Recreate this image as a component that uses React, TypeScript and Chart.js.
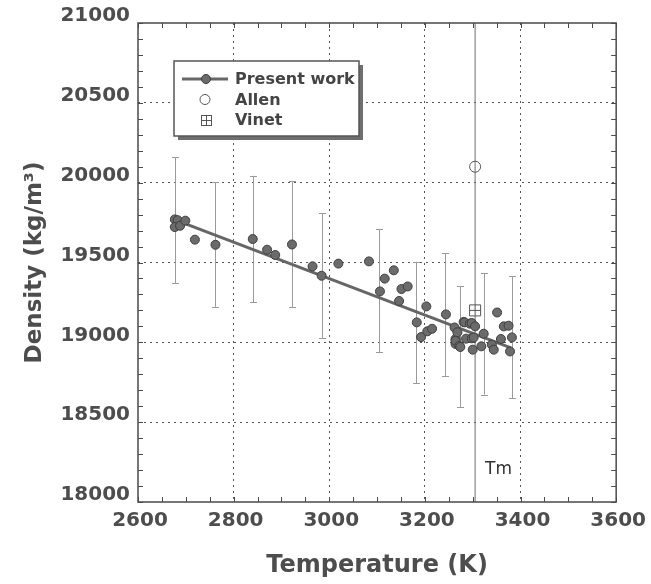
import React, { useEffect, useRef } from "react";
import { Chart, registerables } from "chart.js";

Chart.register(...registerables);

// ---- Axis ranges and tick labels ----
const xMin = 2600;
const xMax = 3600;
const yMin = 18000;
const yMax = 21000;
const xMajorTicks = [2600, 2800, 3000, 3200, 3400, 3600];
const yMajorTicks = [18000, 18500, 19000, 19500, 20000, 20500, 21000];
const xMinorStep = 50;
const yMinorStep = 100;

// ---- Present work measurements (K, kg/m3) ----
const presentT = [
  2677, 2683, 2677, 2688, 2699, 2719, 2762, 2840, 2870, 2887, 2922, 2965, 2984, 3019,
  3083, 3106, 3116, 3135, 3146, 3151, 3164, 3183, 3192, 3203, 3205, 3215, 3244,
  3262, 3264, 3264, 3264, 3268, 3272, 3274, 3281, 3283, 3286, 3294, 3298, 3298,
  3300, 3302, 3305, 3318, 3323, 3340, 3344, 3351, 3359, 3365, 3375, 3378, 3382,
];
const presentRho = [
  19770, 19765, 19722, 19730, 19762, 19643, 19611, 19647, 19580, 19547, 19613, 19476, 19417, 19493,
  19507, 19319, 19399, 19451, 19259, 19334, 19350, 19125, 19033, 19225, 19069, 19085, 19175,
  19093, 19021, 18990, 19010, 19063, 18978, 18971, 19128, 19125, 19023, 19117, 19121, 19025,
  18954, 19030, 19100, 18975, 19054, 18985, 18954, 19187, 19021, 19100, 19104, 18943, 19031,
];

// ---- Linear fit of present work ----
const fitT = [2675, 3380];
const fitRho = [19770, 18965];

// ---- Error bars ----
const errT = [2677, 2760, 2840, 2922, 2984, 3105, 3181, 3243, 3273, 3323, 3383];
const errLow = [19370, 19222, 19252, 19222, 19028, 18937, 18743, 18790, 18596, 18673, 18650];
const errHigh = [20160, 20003, 20043, 20008, 19809, 19707, 19504, 19558, 19350, 19434, 19413];

// ---- Other references ----
const allenT = [3305];
const allenRho = [20100];
const vinetT = [3305];
const vinetRho = [19200];

// ---- Melting temperature ----
const tmT = 3305;
const tmLabel = "Tm";
const tmLabelRho = 18200;

const legendLabels = ["Present work", "Allen", "Vinet"];

const FONT = "DejaVu Sans";
const TEXT = "#4d4d4d";

const pts = (xs: number[], ys: number[]) => xs.map((x, i) => ({ x, y: ys[i] }));

const decorPlugin = {
  id: "decor",
  beforeDatasetsDraw(chart: any) {
    const { ctx } = chart;
    const xs = chart.scales.x;
    const ys = chart.scales.y;
    // error bars
    ctx.save();
    ctx.strokeStyle = "#9a9a9a";
    ctx.lineWidth = 1;
    for (let i = 0; i < errT.length; i++) {
      const px = Math.round(xs.getPixelForValue(errT[i])) + 0.5;
      const y1 = ys.getPixelForValue(errLow[i]);
      const y2 = ys.getPixelForValue(errHigh[i]);
      ctx.beginPath();
      ctx.moveTo(px, y1);
      ctx.lineTo(px, y2);
      ctx.moveTo(px - 3.5, Math.round(y1) + 0.5);
      ctx.lineTo(px + 3.5, Math.round(y1) + 0.5);
      ctx.moveTo(px - 3.5, Math.round(y2) + 0.5);
      ctx.lineTo(px + 3.5, Math.round(y2) + 0.5);
      ctx.stroke();
    }
    ctx.restore();
  },
  afterDraw(chart: any) {
    const { ctx, chartArea: ca } = chart;
    const xs = chart.scales.x;
    const ys = chart.scales.y;
    ctx.save();
    // frame
    ctx.strokeStyle = "#4a4a4a";
    ctx.lineWidth = 1.5;
    ctx.strokeRect(ca.left, ca.top, ca.right - ca.left, ca.bottom - ca.top);
    // inside ticks
    ctx.lineWidth = 1;
    ctx.beginPath();
    const tl = 5;
    for (let v = xMin; v <= xMax; v += xMinorStep) {
      const px = Math.round(xs.getPixelForValue(v)) + 0.5;
      ctx.moveTo(px, ca.bottom);
      ctx.lineTo(px, ca.bottom - tl);
      ctx.moveTo(px, ca.top);
      ctx.lineTo(px, ca.top + tl);
    }
    for (let v = yMin; v <= yMax; v += yMinorStep) {
      const py = Math.round(ys.getPixelForValue(v)) + 0.5;
      ctx.moveTo(ca.left, py);
      ctx.lineTo(ca.left + tl, py);
      ctx.moveTo(ca.right, py);
      ctx.lineTo(ca.right - tl, py);
    }
    ctx.stroke();

    // Tm label
    ctx.fillStyle = "#333";
    ctx.font = `17px "${FONT}"`;
    ctx.textAlign = "left";
    ctx.textBaseline = "middle";
    ctx.fillText(tmLabel, xs.getPixelForValue(tmT) + 10, ys.getPixelForValue(tmLabelRho));

    // legend box
    const bx = ca.left + 36;
    const by = ca.top + 38;
    const bw = 185;
    const bh = 75;
    ctx.fillStyle = "#6e6e6e";
    ctx.fillRect(bx + 4, by + 4, bw, bh);
    ctx.fillStyle = "#fff";
    ctx.fillRect(bx, by, bw, bh);
    ctx.strokeStyle = "#555";
    ctx.lineWidth = 1.5;
    ctx.strokeRect(bx, by, bw, bh);

    const symX = bx + 32;
    const rows = [by + 18, by + 38.5, by + 58.5];
    // present work symbol
    ctx.strokeStyle = "#666";
    ctx.lineWidth = 3;
    ctx.beginPath();
    ctx.moveTo(bx + 8, rows[0]);
    ctx.lineTo(bx + 54, rows[0]);
    ctx.stroke();
    ctx.beginPath();
    ctx.arc(symX, rows[0], 4.5, 0, Math.PI * 2);
    ctx.fillStyle = "#6b6b6b";
    ctx.fill();
    ctx.strokeStyle = "#3f3f3f";
    ctx.lineWidth = 1;
    ctx.stroke();
    // Allen
    ctx.beginPath();
    ctx.arc(symX - 1, rows[1], 5, 0, Math.PI * 2);
    ctx.strokeStyle = "#555";
    ctx.stroke();
    // Vinet
    const s = 5;
    const vx = Math.round(symX) + 0.5;
    const vy = Math.round(rows[2]) + 0.5;
    ctx.strokeRect(vx - s, vy - s, 2 * s, 2 * s);
    ctx.beginPath();
    ctx.moveTo(vx - s, vy);
    ctx.lineTo(vx + s, vy);
    ctx.moveTo(vx, vy - s);
    ctx.lineTo(vx, vy + s);
    ctx.stroke();

    ctx.fillStyle = "#444";
    ctx.font = `bold 16px "${FONT}"`;
    ctx.textBaseline = "middle";
    ctx.textAlign = "left";
    legendLabels.forEach((t, i) => ctx.fillText(t, bx + 61, rows[i] + 1));
    ctx.restore();
  },
};

export default function App() {
  const ref = useRef<HTMLCanvasElement | null>(null);

  useEffect(() => {
    document.body.style.margin = "0";
    if (!ref.current) return;
    const tickFont = { family: FONT, size: 20, weight: "bold" as const };
    const chart = new Chart(ref.current, {
      type: "scatter",
      data: {
        datasets: [
          {
            label: "Present work",
            data: pts(presentT, presentRho),
            pointRadius: 4.5,
            pointBackgroundColor: "#6b6b6b",
            pointBorderColor: "#3f3f3f",
            pointBorderWidth: 1,
            showLine: false,
          },
          {
            label: "fit",
            type: "line",
            data: pts(fitT, fitRho),
            borderColor: "#666",
            borderWidth: 3,
            pointRadius: 0,
            fill: false,
          },
          {
            label: "Vinet",
            data: pts(vinetT, vinetRho),
            pointStyle: "cross",
            pointRadius: 5.5,
            pointBorderColor: "#555",
            pointBorderWidth: 1,
          },
          {
            label: "Vinet box",
            data: pts(vinetT, vinetRho),
            pointStyle: "rect",
            pointRadius: 7.8,
            pointBackgroundColor: "#fff",
            pointBorderColor: "#555",
            pointBorderWidth: 1,
          },
          {
            label: "Allen",
            data: pts(allenT, allenRho),
            pointStyle: "circle",
            pointRadius: 5.5,
            pointBackgroundColor: "rgba(255,255,255,0)",
            pointBorderColor: "#555",
            pointBorderWidth: 1,
          },
          {
            label: "Tm",
            type: "line",
            data: [
              { x: tmT, y: yMin },
              { x: tmT, y: yMax },
            ],
            borderColor: "#707070",
            borderWidth: 1,
            pointRadius: 0,
            fill: false,
          },
        ],
      },
      options: {
        responsive: false,
        animation: false,
        devicePixelRatio: 1,
        layout: { padding: { top: 23, right: 33, left: 0, bottom: 0 } },
        plugins: {
          legend: { display: false },
          tooltip: { enabled: false },
        },
        scales: {
          x: {
            type: "linear",
            min: xMin,
            max: xMax,
            afterFit: (s: any) => {
              s.height = 82;
            },
            afterBuildTicks: (s: any) => {
              s.ticks = xMajorTicks.map((v) => ({ value: v }));
            },
            ticks: {
              color: TEXT,
              font: tickFont,
              padding: 7,
              labelOffset: 2,
              maxRotation: 0,
              autoSkip: false,
              callback: (v: any) => String(v),
            },
            grid: {
              color: (c: any) =>
                c.tick && (c.tick.value === xMin || c.tick.value === xMax) ? "rgba(0,0,0,0)" : "#555",
              lineWidth: 1,
              drawTicks: false,
            },
            border: { display: false, dash: [2, 4] },
            title: {
              display: true,
              text: "Temperature (K)",
              color: TEXT,
              font: { family: FONT, size: 24, weight: "bold" },
              padding: { top: 0, bottom: 4 },
            },
          },
          y: {
            type: "linear",
            min: yMin,
            max: yMax,
            afterFit: (s: any) => {
              s.width = 138;
            },
            afterBuildTicks: (s: any) => {
              s.ticks = yMajorTicks.map((v) => ({ value: v }));
            },
            ticks: {
              color: TEXT,
              font: tickFont,
              padding: 8,
              labelOffset: -7,
              autoSkip: false,
              callback: (v: any) => String(v),
            },
            grid: {
              color: (c: any) =>
                c.tick && (c.tick.value === yMin || c.tick.value === yMax) ? "rgba(0,0,0,0)" : "#555",
              lineWidth: 1,
              drawTicks: false,
            },
            border: { display: false, dash: [2, 4] },
            title: {
              display: true,
              text: "Density (kg/m³)",
              color: TEXT,
              font: { family: FONT, size: 23, weight: "bold" },
              padding: { top: 21, bottom: 0 },
            },
          },
        },
      },
      plugins: [decorPlugin],
    });
    return () => chart.destroy();
  }, []);

  return (
    <div style={{ width: 651, height: 584 }}>
      <canvas ref={ref} width={651} height={584} style={{ display: "block" }} />
    </div>
  );
}
